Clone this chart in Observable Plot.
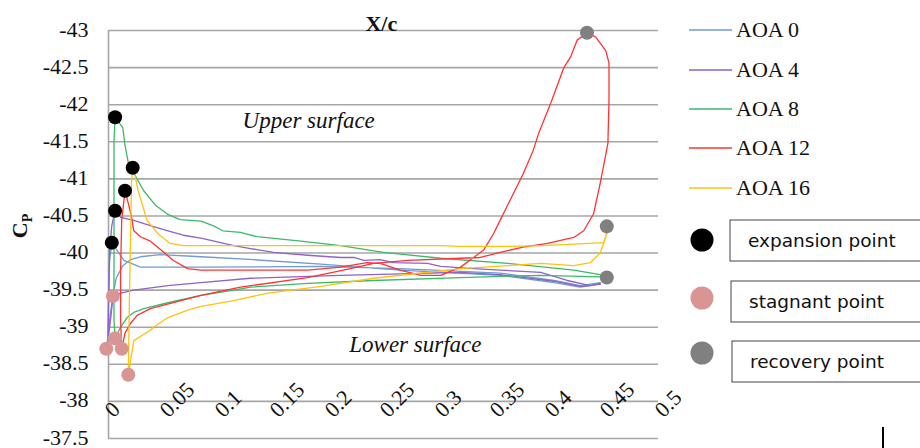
<!DOCTYPE html>
<html><head><meta charset="utf-8">
<script src="https://cdn.jsdelivr.net/npm/d3@7"></script>
<script src="https://cdn.jsdelivr.net/npm/@observablehq/plot@0.6"></script>
<style>
html,body{margin:0;padding:0;background:#fff;}
#chart{position:relative;width:920px;height:448px;overflow:hidden;background:#fff;}
#chart svg{position:absolute;left:0;top:0;}
</style></head><body><div id="chart"></div>
<script>
// ---- data (x/c, Cp) ----
const seriesNames = ["AOA 0", "AOA 4", "AOA 8", "AOA 12", "AOA 16"];
const seriesColors = ["#6f9bd1", "#8e62c8", "#3cb96b", "#ff3333", "#ffc20e"];

const aoa0X = [0.447,0.429,0.405,0.356,0.265,0.193,0.084,0.029,0.014,0.009,0.003,0.001,0.000,-0.001,0.001,0.004,0.007,0.013,0.020,0.029,0.047,0.084,0.132,0.193,0.265,0.356,0.405,0.429,0.447];
const aoa0Cp = [-39.60,-39.56,-39.63,-39.73,-39.79,-39.82,-39.81,-39.81,-39.90,-40.01,-40.14,-39.90,-39.36,-38.75,-39.09,-39.43,-39.66,-39.83,-39.91,-39.95,-39.98,-39.95,-39.91,-39.85,-39.77,-39.70,-39.60,-39.54,-39.58];

const aoa4X = [0.447,0.438,0.417,0.393,0.356,0.332,0.302,0.290,0.259,0.247,0.232,0.223,0.211,0.181,0.150,0.129,0.114,0.084,0.068,0.054,0.038,0.023,0.011,0.006,0.003,0.001,0.000,0.000,0.002,0.004,0.011,0.023,0.054,0.084,0.129,0.211,0.320,0.356,0.405,0.429,0.447];
const aoa4Cp = [-39.59,-39.56,-39.63,-39.74,-39.77,-39.79,-39.82,-39.86,-39.87,-39.91,-39.90,-39.94,-39.94,-39.97,-40.01,-40.06,-40.10,-40.20,-40.24,-40.30,-40.37,-40.44,-40.48,-40.57,-40.37,-40.04,-39.36,-38.89,-39.12,-39.40,-39.46,-39.50,-39.56,-39.60,-39.66,-39.70,-39.74,-39.71,-39.62,-39.55,-39.58];

const aoa8X = [0.453,0.447,0.423,0.363,0.302,0.250,0.211,0.175,0.135,0.120,0.104,0.095,0.084,0.065,0.054,0.043,0.032,0.024,0.018,0.015,0.013,0.006,0.005,0.005,0.005,0.005,0.006,0.011,0.017,0.023,0.032,0.054,0.084,0.114,0.129,0.181,0.241,0.320,0.393,0.447,0.453];
const aoa8Cp = [-39.67,-39.71,-39.77,-39.86,-39.93,-40.01,-40.10,-40.16,-40.22,-40.28,-40.30,-40.37,-40.43,-40.45,-40.52,-40.64,-40.84,-41.05,-41.22,-41.45,-41.69,-41.83,-41.52,-40.71,-39.63,-39.09,-38.85,-39.00,-39.13,-39.20,-39.25,-39.33,-39.43,-39.50,-39.54,-39.59,-39.63,-39.67,-39.70,-39.68,-39.67];

const aoa12X = [0.012,0.011,0.011,0.012,0.015,0.018,0.021,0.023,0.029,0.038,0.047,0.059,0.072,0.084,0.120,0.181,0.211,0.235,0.247,0.265,0.284,0.302,0.320,0.332,0.341,0.350,0.356,0.368,0.377,0.386,0.391,0.402,0.414,0.420,0.426,0.435,0.443,0.452,0.455,0.455,0.454,0.447,0.441,0.432,0.423,0.399,0.377,0.356,0.338,0.320,0.272,0.241,0.220,0.181,0.120,0.084,0.059,0.038,0.026,0.020,0.015,0.012];
const aoa12Cp = [-38.71,-39.09,-39.77,-40.44,-40.84,-40.67,-40.48,-40.30,-40.22,-40.16,-40.05,-39.90,-39.79,-39.77,-39.77,-39.77,-39.81,-39.87,-39.86,-39.77,-39.70,-39.70,-39.81,-39.94,-40.04,-40.26,-40.44,-40.80,-41.07,-41.38,-41.61,-42.02,-42.50,-42.64,-42.87,-42.97,-42.91,-42.73,-42.56,-42.06,-41.48,-40.94,-40.53,-40.30,-40.21,-40.13,-40.08,-40.01,-39.94,-39.93,-39.90,-39.86,-39.79,-39.67,-39.54,-39.43,-39.33,-39.25,-39.16,-39.05,-38.92,-38.71];

const aoa16X = [0.453,0.454,0.450,0.423,0.393,0.363,0.320,0.302,0.120,0.068,0.056,0.045,0.035,0.027,0.024,0.022,0.021,0.020,0.019,0.018,0.023,0.038,0.041,0.054,0.072,0.084,0.114,0.145,0.193,0.241,0.320,0.363,0.393,0.423,0.438,0.447,0.452,0.453];
const aoa16Cp = [-40.36,-40.30,-40.14,-40.12,-40.10,-40.09,-40.09,-40.10,-40.10,-40.10,-40.13,-40.26,-40.44,-40.84,-41.05,-41.15,-40.98,-40.17,-39.36,-38.36,-38.82,-38.96,-39.00,-39.13,-39.23,-39.28,-39.36,-39.46,-39.55,-39.66,-39.79,-39.83,-39.86,-39.83,-39.87,-40.00,-40.21,-40.36];

const expansionX = [0.006,0.022,0.015,0.006,0.003];
const expansionCp = [-41.83,-41.15,-40.84,-40.57,-40.14];
const stagnantX = [0.004,0.006,-0.002,0.012,0.018];
const stagnantCp = [-39.42,-38.85,-38.71,-38.71,-38.36];
const recoveryX = [0.435,0.453,0.453];
const recoveryCp = [-42.97,-40.36,-39.67];

const pointNames = ["expansion point", "stagnant point", "recovery point"];
const pointColors = ["#000000", "#d99594", "#808080"];

const xTicks = [0,0.05,0.1,0.15,0.2,0.25,0.3,0.35,0.4,0.45,0.5];
const xTickLabels = ["0","0.05","0.1","0.15","0.2","0.25","0.3","0.35","0.4","0.45","0.5"];
const yTicks = [-43,-42.5,-42,-41.5,-41,-40.5,-40,-39.5,-39,-38.5,-38,-37.5];
const yTickLabels = ["-43","-42.5","-42","-41.5","-41","-40.5","-40","-39.5","-39","-38.5","-38","-37.5"];

// ---- build tables ----
const seriesX = [aoa0X, aoa4X, aoa8X, aoa12X, aoa16X];
const seriesCp = [aoa0Cp, aoa4Cp, aoa8Cp, aoa12Cp, aoa16Cp];
const rows = [];
seriesNames.forEach((name, s) => {
  seriesX[s].forEach((x, i) => rows.push({series: name, x, cp: seriesCp[s][i]}));
});
const pts = [];
[[expansionX, expansionCp], [stagnantX, stagnantCp], [recoveryX, recoveryCp]].forEach(([xs, cps], k) => {
  xs.forEach((x, i) => pts.push({kind: pointNames[k], x, cp: cps[i]}));
});

const serif = "'Liberation Serif', 'Times New Roman', serif";
const sans = "'DejaVu Sans', Verdana, sans-serif";

const chart = Plot.plot({
  width: 920, height: 448,
  marginLeft: 108, marginRight: 262, marginTop: 30, marginBottom: 10,
  style: {fontFamily: serif, fontSize: "22px", color: "#111", background: "#fff", overflow: "visible"},
  x: {domain: [0, 0.5], axis: null},
  y: {domain: [-37.5, -43], axis: null},
  color: {domain: seriesNames, range: seriesColors},
  marks: [
    Plot.gridY(yTicks, {stroke: "#a6a6a6", strokeOpacity: 1, strokeWidth: 1.6}),
    Plot.ruleX([0], {y1: -43, y2: -37.5, stroke: "#a6a6a6", strokeWidth: 1.6}),
    Plot.text(yTicks, {x: 0, y: d => d, text: (d, i) => yTickLabels[i], textAnchor: "end", dx: -20, dy: -1, fontSize: 22, fill: "#111"}),
    Plot.text(xTicks, {x: d => d, y: -38, text: (d, i) => xTickLabels[i], rotate: -45, textAnchor: "start", lineAnchor: "bottom", dx: 5, dy: 17, fontSize: 22, fill: "#111"}),
    Plot.line(rows, {x: "x", y: "cp", z: "series", stroke: "series", strokeWidth: 1.3}),
    Plot.dot(pts, {x: "x", y: "cp", r: 7, fill: d => pointColors[pointNames.indexOf(d.kind)], stroke: "none"}),
    Plot.text(["Upper surface"], {x: 0.182, y: -41.79, text: d => d, fontStyle: "italic", fontSize: 23, fill: "#111"}),
    Plot.text(["Lower surface"], {x: 0.279, y: -38.77, text: d => d, fontStyle: "italic", fontSize: 23, fill: "#111"}),
    Plot.text(["X/c"], {x: 0.248, y: -43, dy: -7, text: d => d, fontWeight: "bold", fontSize: 22, fill: "#111"})
  ]
});
document.getElementById("chart").appendChild(chart);

// ---- y title and legends ----
const svg = d3.select(chart);
const yt = svg.append("text")
  .attr("transform", "translate(27,226) rotate(-90)")
  .attr("text-anchor", "middle")
  .attr("font-family", serif).attr("font-weight", "bold").attr("font-size", 22).attr("fill", "#111");
yt.append("tspan").text("C");
yt.append("tspan").attr("dy", 5).attr("font-size", 14).text("P");

const lg = svg.append("g").attr("text-anchor", "start");
const lineY = [30, 70, 109, 148, 188];
seriesNames.forEach((name, i) => {
  lg.append("line").attr("x1", 689).attr("x2", 732).attr("y1", lineY[i]).attr("y2", lineY[i])
    .attr("stroke", seriesColors[i]).attr("stroke-width", 1.5);
  lg.append("text").attr("x", 736).attr("y", lineY[i]).attr("dy", "0.33em").attr("text-anchor", "start")
    .attr("font-family", serif).attr("font-size", 22).attr("fill", "#111").text(name);
});
const boxTop = [220, 281, 341];
const circY = [240, 298, 353];
pointNames.forEach((name, i) => {
  lg.append("circle").attr("cx", 702).attr("cy", circY[i]).attr("r", 11.5).attr("fill", pointColors[i]);
  lg.append("rect").attr("x", 730 + i).attr("y", boxTop[i]).attr("width", 220).attr("height", 41)
    .attr("fill", "#fff").attr("stroke", "#444").attr("stroke-width", 1);
  lg.append("text").attr("x", 748 + i).attr("y", boxTop[i] + 21).attr("dy", "0.35em").attr("text-anchor", "start")
    .attr("font-family", sans).attr("font-size", 18.5).attr("fill", "#111").text(name);
});
lg.append("line").attr("x1", 883).attr("x2", 883).attr("y1", 427).attr("y2", 448).attr("stroke", "#000").attr("stroke-width", 2);
</script></body></html>
